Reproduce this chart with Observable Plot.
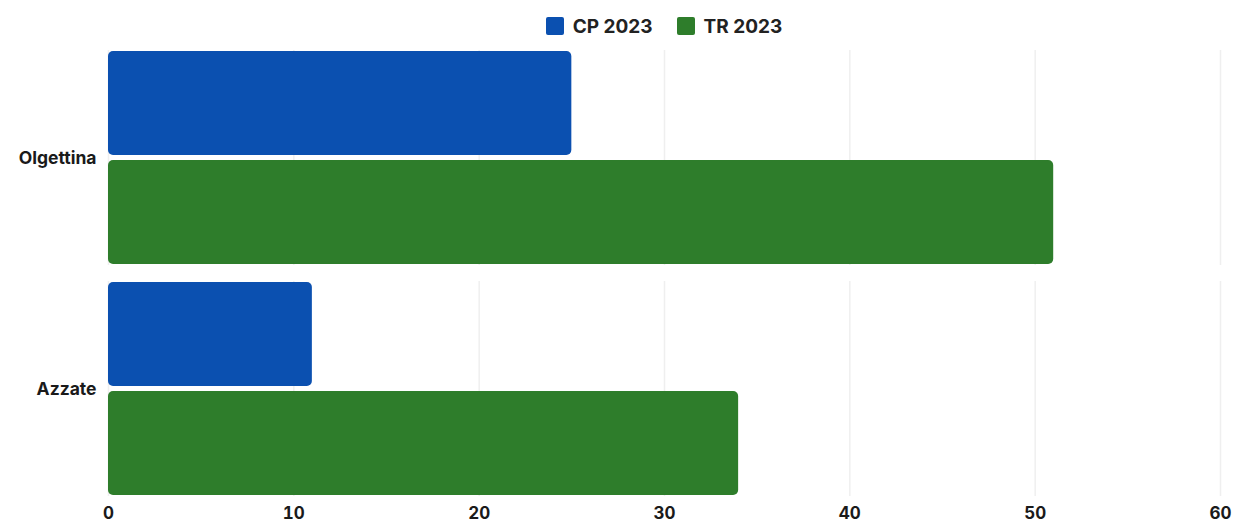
<!DOCTYPE html>
<html>
<head>
<meta charset="utf-8">
<script src="https://cdn.jsdelivr.net/npm/d3@7"></script>
<script src="https://cdn.jsdelivr.net/npm/@observablehq/plot@0.6"></script>
<style>
  html, body { margin: 0; padding: 0; background: #fff; }
  body { width: 1235px; height: 524px; overflow: hidden; font-family: Inter, "Noto Sans", sans-serif; }
  #legend { height: 40px; margin-left: 108px; width: 1112px; display: flex; justify-content: center; align-items: center; gap: 24px; font-weight: 700; font-size: 19px; color: #222; padding-top: 12px; box-sizing: border-box; }
  #legend .item { display: flex; align-items: center; gap: 9px; }
  #legend .sw { width: 18px; height: 18px; border-radius: 2px; display: inline-block; }
</style>
</head>
<body>
<div id="legend"></div>
<div id="chart"></div>
<script>
const categories = ["Olgettina", "Azzate"];
const series = ["CP 2023", "TR 2023"];
const cpValues = [25, 11];
const trValues = [51, 34];
const xTicks = [0, 10, 20, 30, 40, 50, 60];
const colors = ["#0b50b0", "#2e7d2b"];

const data = [];
categories.forEach((c, i) => {
  data.push({ location: c, series: series[0], value: cpValues[i] });
  data.push({ location: c, series: series[1], value: trValues[i] });
});

const legend = document.getElementById("legend");
series.forEach((s, i) => {
  const it = document.createElement("div");
  it.className = "item";
  it.innerHTML = `<span class="sw" style="background:${colors[i]}"></span><span>${s}</span>`;
  legend.appendChild(it);
});

const chart = Plot.plot({
  width: 1235,
  height: 484,
  marginTop: 10,
  marginBottom: 28,
  marginLeft: 108,
  marginRight: 15,
  style: { fontFamily: "Inter, 'Noto Sans', sans-serif", fontSize: "16px", fontWeight: 700, color: "#1a1a1a", background: "#fff", overflow: "visible" },
  x: { domain: [0, 60], ticks: xTicks, tickSize: 0, label: null, grid: false },
  y: { domain: series, axis: null, paddingInner: 0.045, paddingOuter: 0 },
  fy: { domain: categories, paddingInner: 0.07, paddingOuter: 0, label: null, axis: null },
  color: { domain: series, range: colors },
  marks: [
    Plot.gridX(xTicks, { stroke: "#efefef", strokeOpacity: 1, strokeWidth: 1.5 }),
    Plot.barX(data, { fy: "location", y: "series", x: "value", fill: "series", rx: 5 }),
    Plot.axisX({ ticks: xTicks, tickSize: 0, tickPadding: 10, fontSize: 17, fontWeight: 700, label: null }),
    Plot.axisFy({ anchor: "left", tickSize: 0, tickPadding: 12, fontSize: 17.5, fontWeight: 700, label: null })
  ]
});
document.getElementById("chart").appendChild(chart);
</script>
</body>
</html>
